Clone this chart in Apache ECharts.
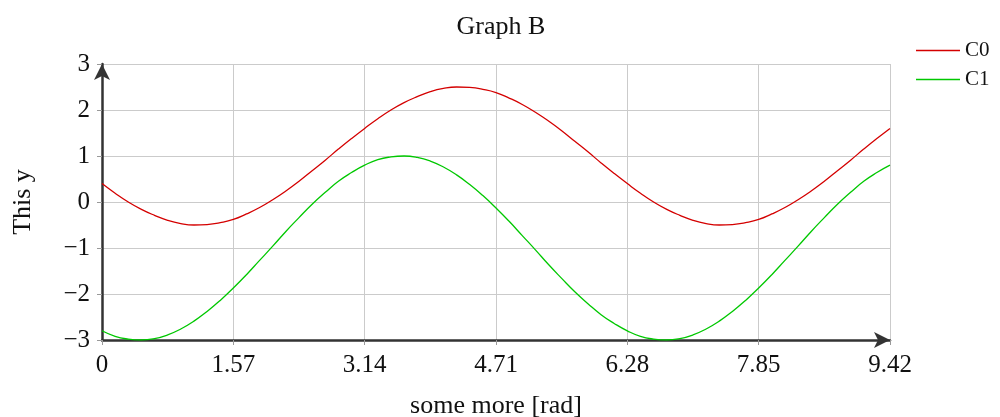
<!DOCTYPE html>
<html>
<head>
<meta charset="utf-8">
<script src="https://cdn.jsdelivr.net/npm/echarts@6/dist/echarts.min.js"></script>
<style>html,body{margin:0;padding:0;background:#fff}#c{width:1000px;height:417px}</style>
</head>
<body>
<div id="c"></div>
<script>
const xValues = [0,0.157,0.314,0.471,0.628,0.785,0.942,1.099,1.256,1.413,1.57,1.727,1.884,2.041,2.198,2.355,2.512,2.669,2.826,2.983,3.14,3.297,3.454,3.611,3.768,3.925,4.082,4.239,4.396,4.553,4.71,4.867,5.024,5.181,5.338,5.495,5.652,5.809,5.966,6.123,6.28,6.437,6.594,6.751,6.908,7.065,7.222,7.379,7.536,7.693,7.85,8.007,8.164,8.321,8.478,8.635,8.792,8.949,9.106,9.263,9.42];
const c0Values = [0.40,0.19,0.00,-0.16,-0.29,-0.40,-0.47,-0.50,-0.49,-0.45,-0.38,-0.26,-0.12,0.05,0.24,0.45,0.68,0.91,1.15,1.38,1.60,1.81,2.00,2.16,2.29,2.40,2.47,2.50,2.49,2.45,2.38,2.26,2.12,1.95,1.76,1.55,1.32,1.09,0.85,0.62,0.40,0.19,0.00,-0.16,-0.29,-0.40,-0.47,-0.50,-0.49,-0.45,-0.38,-0.26,-0.12,0.05,0.24,0.45,0.68,0.91,1.15,1.38,1.60];
const c1Values = [-2.80,-2.92,-2.98,-3.00,-2.97,-2.89,-2.76,-2.59,-2.38,-2.14,-1.87,-1.58,-1.27,-0.96,-0.64,-0.34,-0.05,0.21,0.45,0.64,0.80,0.92,0.98,1.00,0.97,0.89,0.76,0.59,0.38,0.14,-0.13,-0.42,-0.73,-1.04,-1.36,-1.66,-1.95,-2.21,-2.45,-2.64,-2.80,-2.92,-2.98,-3.00,-2.97,-2.89,-2.76,-2.59,-2.38,-2.14,-1.87,-1.58,-1.27,-0.96,-0.64,-0.34,-0.05,0.21,0.45,0.64,0.80];
const seriesNames = ['C0','C1'];
const xTicks = {min:0, max:9.42, interval:1.57};
const yTicks = {min:-3, max:3, interval:1};

const font = 'Liberation Serif';
const chart = echarts.init(document.getElementById('c'));
const pairs = v => xValues.map((x,i)=>[x,v[i]]);
chart.setOption({
  animation:false,
  backgroundColor:'#fff',
  title:{text:'Graph B', left:496, textAlign:'center', top:9,
    textStyle:{fontFamily:font, fontSize:26, fontWeight:'normal', color:'#111'}},
  legend:{orient:'vertical', left:911, top:35, icon:'rect', itemWidth:44, itemHeight:1.5, itemGap:8,
    textStyle:{fontFamily:font, fontSize:21, color:'#111', lineHeight:20},
    data:seriesNames},
  grid:{left:102, right:110, top:64, bottom:77, containLabel:false, outerBoundsMode:'none'},
  xAxis:{type:'value', min:xTicks.min, max:xTicks.max, interval:xTicks.interval,
    name:'some more [rad]', nameLocation:'middle', nameGap:53,
    nameTextStyle:{fontFamily:font, fontSize:26, color:'#111'},
    axisLine:{show:true, onZero:false, symbol:['none','arrow'], symbolSize:[12,16], symbolOffset:[0,0],
      lineStyle:{color:'#333', width:2.5}},
    axisTick:{show:true, length:5, lineStyle:{color:'#999'}},
    axisLabel:{fontFamily:font, fontSize:25, color:'#111', margin:13,
      formatter:v=> v===0?'0':v.toFixed(2)},
    splitLine:{show:true, lineStyle:{color:'#cbcbcb', width:1}}},
  yAxis:{type:'value', min:yTicks.min, max:yTicks.max, interval:yTicks.interval,
    name:'This y', nameLocation:'middle', nameGap:66,
    nameTextStyle:{fontFamily:font, fontSize:26, color:'#111'},
    axisLine:{show:true, onZero:false, symbol:['none','arrow'], symbolSize:[12,16], symbolOffset:[0,0],
      lineStyle:{color:'#333', width:2.5}},
    axisTick:{show:true, length:5, lineStyle:{color:'#999'}},
    axisLabel:{fontFamily:font, fontSize:25, color:'#111', margin:12,
      formatter:v=> v<0?'\u2212'+Math.abs(v):String(v)},
    splitLine:{show:true, lineStyle:{color:'#cbcbcb', width:1}}},
  series:[
    {name:seriesNames[0], type:'line', data:pairs(c0Values), smooth:true, showSymbol:false,
      lineStyle:{color:'#d40000', width:1.3}, itemStyle:{color:'#d40000'}},
    {name:seriesNames[1], type:'line', data:pairs(c1Values), smooth:true, showSymbol:false,
      lineStyle:{color:'#00c800', width:1.3}, itemStyle:{color:'#00c800'}}
  ]
});
</script>
</body>
</html>
